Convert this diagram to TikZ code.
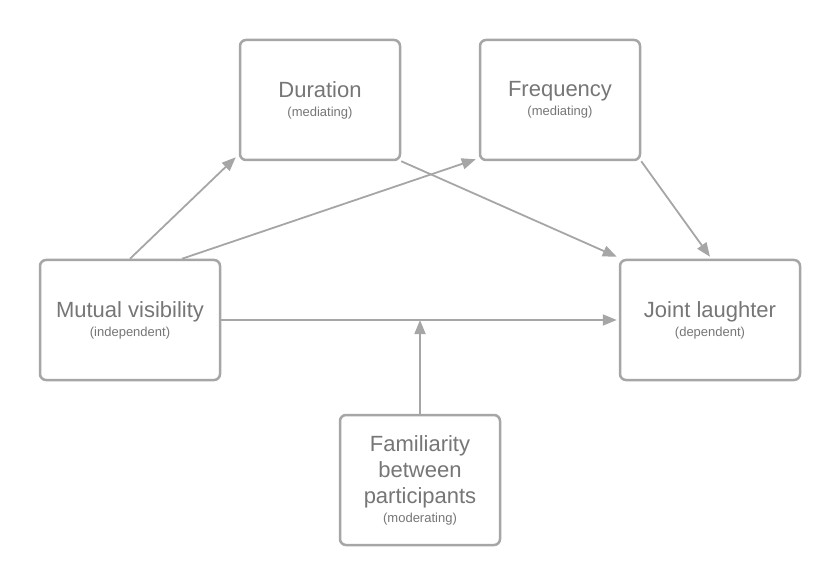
\documentclass[tikz,border=0pt]{standalone}
\usepackage{fontspec}
\setmainfont{Liberation Sans}
\usepackage{xcolor}
\usetikzlibrary{arrows.meta,positioning,calc}
\definecolor{boxgray}{HTML}{A6A6A6}
\definecolor{textgray}{HTML}{767676}
\tikzset{
  varbox/.style={draw=boxgray, line width=2.5pt, rounded corners=6pt, fill=white,
    text=textgray, align=center, inner sep=0pt, font=\fontsize{22}{26}\selectfont},
  link/.style={draw=boxgray, line width=1.8pt, -{Triangle[length=14pt,width=11pt]}},
}
\newcommand{\vrole}[1]{{\fontsize{13}{15}\selectfont #1}}
\begin{document}
\begin{tikzpicture}[x=1pt,y=-1pt]
        \useasboundingbox (0,0) rectangle (840,585);
        \node [varbox, minimum width=160, minimum height=120] (dur) at (320,100) {Duration\\[-7pt]\vrole{(mediating)}};
        \node [varbox, minimum width=160, minimum height=120] (freq) at (560,100) {Frequency\\[-7pt]\vrole{(mediating)}};
        \node [varbox, minimum width=180, minimum height=120] (mut) at (130,320) {Mutual visibility\\[-7pt]\vrole{(independent)}};
        \node [varbox, minimum width=180, minimum height=120] (joint) at (710,320) {Joint laughter\\[-7pt]\vrole{(dependent)}};
        \node [varbox, minimum width=160, minimum height=130] (fam) at (420,480) {Familiarity\\between\\participants\\[-7pt]\vrole{(moderating)}};

        \coordinate (mid) at (420,320);

        \draw [link] (mut.north) -- ($(dur.south west)+(-3,-4)$);
        \draw [link] ($(mut.north)+(52,0)$) -- ($(freq.south west)+(-3,-2)$);
        \draw [link] (dur.south east) -- ($(joint.north west)+(-2,-2)$);
        \draw [link] (freq.south east) -- ($(joint.north)+(0,-2)$);
        \draw [link] (mut.east) -- ($(joint.west)+(-2,0)$);
        \draw [link] (fam.north) -- (mid);
      \end{tikzpicture}
\end{document}
